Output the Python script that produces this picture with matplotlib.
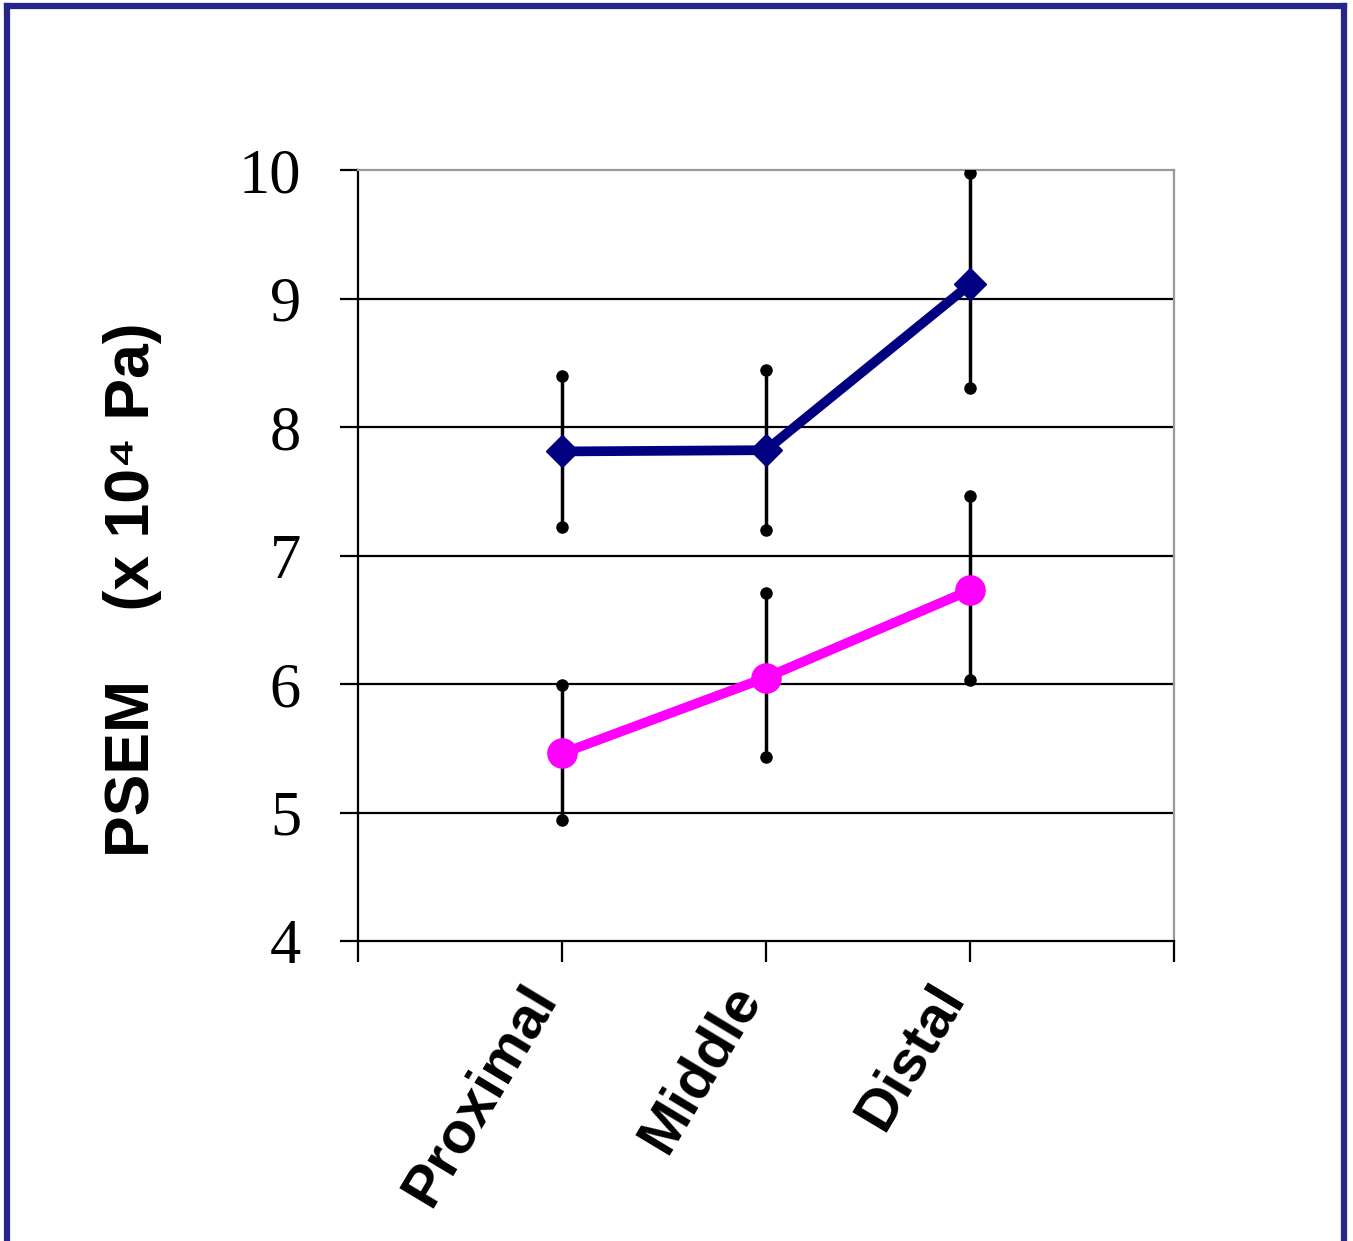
import matplotlib
matplotlib.use("Agg")
import matplotlib.pyplot as plt
from matplotlib.lines import Line2D
import matplotlib.transforms as mtransforms
import numpy as np

categories = ["Proximal", "Middle", "Distal"]
blue_vals = [7.81, 7.82, 9.11]
blue_upper = [8.40, 8.44, 9.98]
blue_lower = [7.22, 7.20, 8.30]
pink_vals = [5.46, 6.05, 6.73]
pink_upper = [5.99, 6.71, 7.46]
pink_lower = [4.94, 5.43, 6.03]
y_ticks = [4, 5, 6, 7, 8, 9, 10]

fig = plt.figure(figsize=(13.53, 12.41), dpi=100)
ax = fig.add_axes([0.2646, 0.2417, 0.6031, 0.6213])

x = np.arange(1, len(categories) + 1)

def draw(vals, up, lo, color, marker, ms):
    vals = np.array(vals); up = np.array(up); lo = np.array(lo)
    ax.errorbar(x, vals, yerr=[vals - lo, up - vals], fmt='none',
                ecolor='black', elinewidth=2.5, capsize=0, zorder=3)
    ax.plot(x, up, 'o', color='black', ms=8, zorder=4)
    ax.plot(x, lo, 'o', color='black', ms=8, zorder=4)
    ax.plot(x, vals, '-', color=color, lw=7, marker=marker, ms=ms,
            markeredgecolor=color, zorder=5, solid_capstyle='butt')

draw(blue_vals, blue_upper, blue_lower, '#000080', 'D', 16)
draw(pink_vals, pink_upper, pink_lower, '#FF00FF', 'o', 21)

ax.set_xlim(0, 4)
ax.set_ylim(4, 10)
ax.set_yticks(y_ticks)
ax.set_yticklabels([str(t) for t in y_ticks], fontfamily='Liberation Serif', fontsize=45)
ax.set_xticks([0, 1, 2, 3, 4])
ax.set_xticklabels([])

# category labels, placed relative to their tick positions
base = mtransforms.blended_transform_factory(ax.transData, ax.transAxes)
offset = mtransforms.ScaledTranslation(-18 / 100, -48 / 100, fig.dpi_scale_trans)
for xi, cat in zip(x, categories):
    ax.text(xi, 0, cat, transform=base + offset, fontfamily='Liberation Sans',
            fontweight='bold', fontsize=42, rotation=59,
            ha='right', va='center', rotation_mode='anchor', clip_on=False)

for y in y_ticks[1:-1]:
    ax.axhline(y, color='black', lw=1.6, zorder=1)

ax.tick_params(axis='y', direction='out', length=13, width=1.6, pad=28)
ax.tick_params(axis='x', direction='out', length=15, width=1.6)
for s in ['left', 'bottom']:
    ax.spines[s].set_color('black')
    ax.spines[s].set_linewidth(1.6)
for s in ['top', 'right']:
    ax.spines[s].set_color('#999999')
    ax.spines[s].set_linewidth(1.6)

fig.text(133 / 1353, 1 - 590 / 1241, "PSEM    (x 10\u2074 Pa)",
         fontfamily=['Liberation Sans', 'DejaVu Sans'], fontweight='bold',
         fontsize=45, rotation=90, ha='center', va='center')

# outer frame
c = '#26268a'
fig.add_artist(Line2D([0.0055, 0.0055], [-0.01, 0.9955], color=c, lw=4.5, transform=fig.transFigure))
fig.add_artist(Line2D([0.0055, 0.9935], [0.9955, 0.9955], color=c, lw=4.5, transform=fig.transFigure))
fig.add_artist(Line2D([0.9935, 0.9935], [-0.01, 0.9955], color=c, lw=4.5, transform=fig.transFigure))

fig.savefig("out.png", dpi=100)
